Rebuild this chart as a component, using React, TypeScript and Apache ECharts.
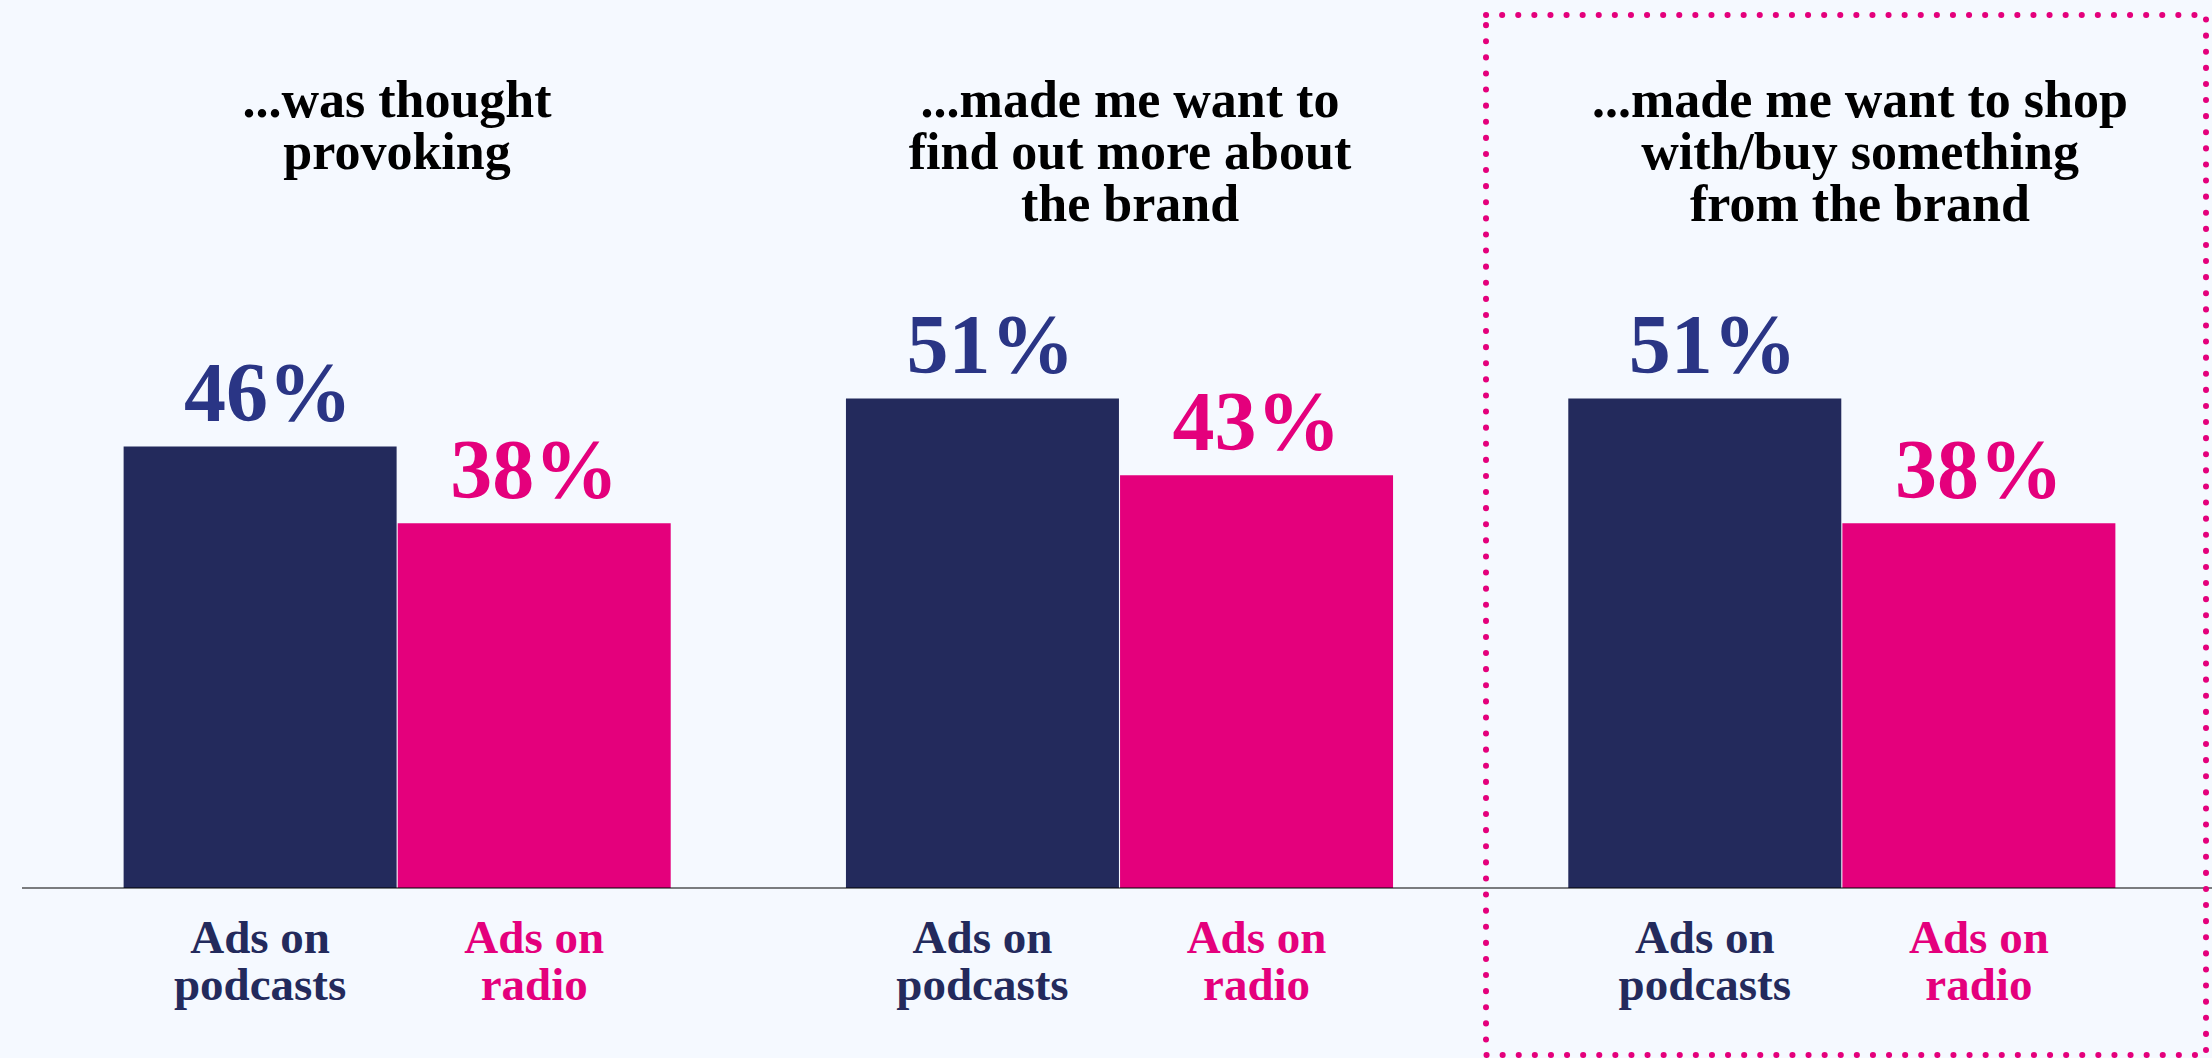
import React, { useEffect, useRef } from "react";
import * as echarts from "echarts";

// ---- data ----
const categories = [
  "...was thought\nprovoking",
  "...made me want to\nfind out more about\nthe brand",
  "...made me want to shop\nwith/buy something\nfrom the brand",
];
const podcastValues = [46, 51, 51];
const radioValues = [38, 43, 38];
const seriesNames = ["Ads on podcasts", "Ads on radio"];
const seriesLabels = ["Ads on\npodcasts", "Ads on\nradio"];

// ---- style ----
const NAVY = "#232a5c";
const NAVY_TEXT = "#2a3585";
const PINK = "#e4007c";
const BG = "#f5f9ff";
const SERIF = "'Liberation Serif', 'DejaVu Serif', serif";
const W = 2212;
const H = 1058;
const titleCenters = [397, 1130, 1860];

export default function App() {
  const ref = useRef<HTMLDivElement>(null);

  useEffect(() => {
    if (!ref.current) return;
    const chart = echarts.init(ref.current, undefined, { renderer: "svg" });

    const barCommon = {
      type: "bar",
      barWidth: 273,
      barGap: "0.4%",
    };

    const bottomLabel = (text: string, color: string) => ({
      show: true,
      position: "bottom",
      distance: 25,
      formatter: text,
      color,
      fontFamily: SERIF,
      fontWeight: "bold",
      fontSize: 47,
      lineHeight: 47,
    });

    const valueLabel = (color: string, offset: number[]) => ({
      show: true,
      position: "top",
      distance: 12,
      offset,
      formatter: "{c}%",
      color,
      fontFamily: SERIF,
      fontWeight: "bold",
      fontSize: 84,
    });

    const option: any = {
      animation: false,
      backgroundColor: BG,
      title: categories.map((t, i) => ({
        text: t,
        left: titleCenters[i],
        top: 73,
        padding: 0,
        textAlign: "center",
        textVerticalAlign: "top",
        textStyle: {
          fontFamily: SERIF,
          fontWeight: "bold",
          fontSize: 52,
          lineHeight: 52,
          color: "#000000",
        },
      })),
      grid: { left: 36, right: 9, top: 312, bottom: 170 },
      xAxis: [
        { type: "category", data: categories, show: false },
        { type: "category", data: categories, show: false, gridIndex: 0 },
      ],
      yAxis: { type: "value", min: 0, max: 60, show: false },
      series: [
        {
          ...barCommon,
          name: seriesNames[0],
          xAxisIndex: 0,
          data: podcastValues,
          itemStyle: { color: NAVY },
          label: valueLabel(NAVY_TEXT, [8, 0]),
        },
        {
          ...barCommon,
          name: seriesNames[1],
          xAxisIndex: 0,
          data: radioValues,
          itemStyle: { color: PINK },
          label: valueLabel(PINK, [0, 0]),
        },
        {
          ...barCommon,
          name: seriesNames[0] + " label",
          xAxisIndex: 1,
          data: podcastValues,
          silent: true,
          itemStyle: { color: "rgba(0,0,0,0)" },
          label: bottomLabel(seriesLabels[0], NAVY),
        },
        {
          ...barCommon,
          name: seriesNames[1] + " label",
          xAxisIndex: 1,
          data: radioValues,
          silent: true,
          itemStyle: { color: "rgba(0,0,0,0)" },
          label: bottomLabel(seriesLabels[1], PINK),
        },
      ],
      graphic: [
        {
          type: "line",
          z: 100,
          shape: { x1: 22, y1: 888, x2: W, y2: 888 },
          style: { stroke: "rgba(0,0,0,0.5)", lineWidth: 2 },
        },
        {
          type: "rect",
          z: 100,
          shape: { x: 1486, y: 15, width: 720, height: 1040 },
          style: {
            fill: "none",
            stroke: PINK,
            lineWidth: 6,
            lineDash: [0.1, 16],
            lineCap: "round",
          },
        },
      ],
    };

    chart.setOption(option);
    return () => chart.dispose();
  }, []);

  return (
    <div
      ref={ref}
      style={{ position: "fixed", left: 0, top: 0, width: W, height: H }}
    />
  );
}
